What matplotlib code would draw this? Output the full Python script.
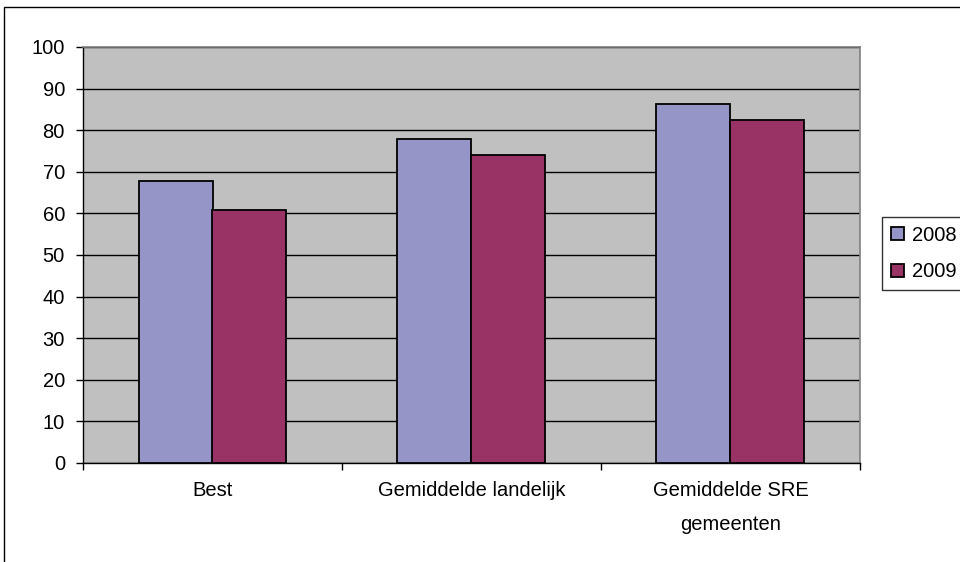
import matplotlib
matplotlib.use("Agg")
import matplotlib.pyplot as plt
from matplotlib.patches import Rectangle
import numpy as np

categories = ["Best", "Gemiddelde landelijk", "Gemiddelde SRE\ngemeenten"]
series_names = ["2008", "2009"]
values_2008 = [67.7, 77.8, 86.4]
values_2009 = [60.9, 74.0, 82.5]
y_ticks = [0, 10, 20, 30, 40, 50, 60, 70, 80, 90, 100]

plt.rcParams["font.family"] = ["Liberation Sans", "DejaVu Sans"]
FS = 14.5

fig = plt.figure(figsize=(9.6, 5.62), dpi=100)
W, H = 960, 562

# outer chart frame (extends past the right and bottom edges)
fig.patches.append(Rectangle((4 / W, -0.2), 1.2, 1 - 7 / H + 0.2,
                             transform=fig.transFigure, fill=False,
                             edgecolor="black", linewidth=1.0))

ax = fig.add_axes([83 / W, 1 - 463 / H, (860 - 83) / W, (463 - 47) / H])
ax.set_facecolor("#C0C0C0")

x = np.arange(len(categories)) + 0.5
w = 74 / 259
ax.bar(x - w / 2, values_2008, width=w, color="#9595C8", edgecolor="black",
       linewidth=1.3, label=series_names[0], zorder=3)
ax.bar(x + w / 2, values_2009, width=w, color="#993366", edgecolor="black",
       linewidth=1.3, label=series_names[1], zorder=3)

ax.set_xlim(0, 3)
ax.set_ylim(0, 100)
ax.set_yticks(y_ticks)
ax.set_yticklabels([str(v) for v in y_ticks], fontsize=FS)
ax.yaxis.grid(True, color="black", linewidth=1.0, zorder=1)
ax.set_axisbelow(True)

ax.set_xticks([0, 1, 2, 3])
ax.set_xticklabels([])
ax.set_xticks(x, minor=True)
ax.set_xticklabels(categories, minor=True, fontsize=FS, linespacing=2.0)
ax.tick_params(axis="x", which="minor", length=0, pad=13)
ax.tick_params(axis="x", which="major", length=5, width=1, direction="out")
ax.tick_params(axis="y", length=5, width=1, direction="out", pad=8)

for side in ("top", "right"):
    ax.spines[side].set_color("#808080")
    ax.spines[side].set_linewidth(1.2)
for side in ("left", "bottom"):
    ax.spines[side].set_color("black")
    ax.spines[side].set_linewidth(1.0)

leg = fig.legend(loc="upper left", bbox_to_anchor=(882 / W, 1 - 217 / H),
                 fontsize=FS, frameon=True, fancybox=False, handlelength=0.62,
                 handleheight=0.62, handletextpad=0.4, borderpad=0.45,
                 labelspacing=0.85, borderaxespad=0)
leg.get_frame().set_edgecolor("black")
leg.get_frame().set_linewidth(1.0)

fig.savefig("out.png", dpi=100)
